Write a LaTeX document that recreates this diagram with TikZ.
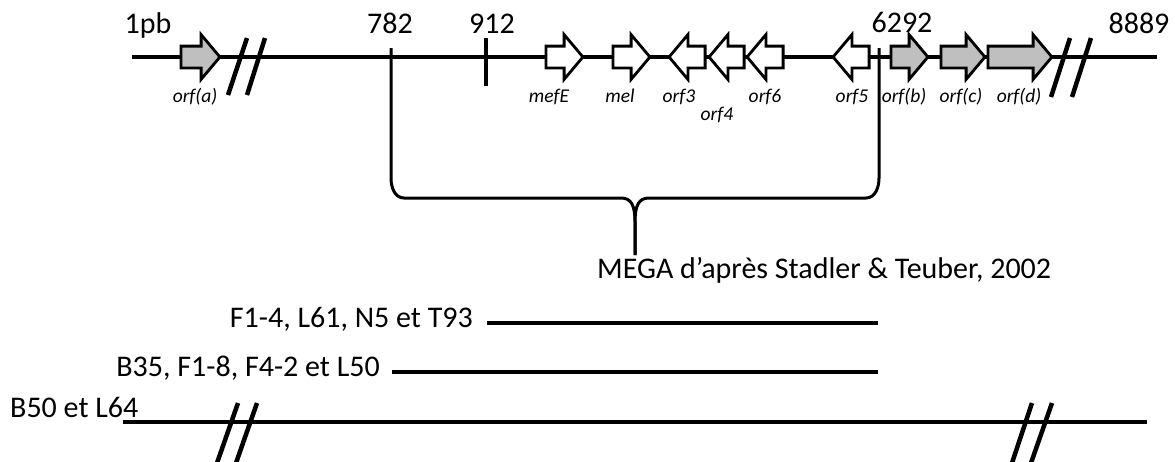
\documentclass[tikz,border=0pt]{standalone}
\usepackage{fontspec}
\setmainfont{Carlito}
\usetikzlibrary{shapes.arrows}

\begin{document}
\begin{tikzpicture}[x=1pt, y=-1pt,
  gene/.style={single arrow, draw=black, line width=2.8pt, fill=white, minimum height=#1, minimum width=0pt, inner xsep=0pt, inner ysep=9.5pt, single arrow head extend=11.5pt, single arrow tip angle=100, anchor=tail},
  orfgray/.style={fill=black!25},
  backward/.style={shape border rotate=180},
  bigtxt/.style={font=\fontsize{30}{34}\selectfont, inner sep=0pt},
  orftxt/.style={font=\fontsize{19.5}{22}\selectfont\itshape, inner sep=0pt, anchor=base},
  seqline/.style={line width=4.8pt},
  cutmark/.style={line width=4.5pt},
  tickline/.style={line width=3pt},
  bar/.style={line width=4pt}
]
  \useasboundingbox (0,0) rectangle (1175,461);

  \coordinate (seqstart) at (132,57);
  \coordinate (seqend) at (1157,57);
  \draw[seqline] (seqstart) -- (seqend);

  \draw[cutmark] (247,38) -- (228,95);
  \draw[cutmark] (265,38) -- (247,95);
  \draw[cutmark] (1070,38) -- (1051,97);
  \draw[cutmark] (1091,38) -- (1072,97);

  \coordinate (t782) at (391,48);
  \coordinate (t912) at (486,38);
  \coordinate (t6292) at (879,48);
  \coordinate (bracetip) at (635,255);
  \draw[cutmark] (t912) -- (486,86);
  \draw[tickline] (t782) -- (391,178) to[out=-90, in=180] (404,198) -- (621,198)
    .. controls (631,198) and (635,205) .. (635,222) -- (bracetip);
  \draw[tickline] (bracetip) -- (635,222) .. controls (635,205) and (639,198) .. (649,198)
    -- (866,198) to[out=0, in=-90] (879,178) -- (t6292);

  \node[gene=39pt, orfgray] (orfa) at (179.5,57) {};
  \node[gene=37pt] (mefE) at (544.5,57) {};
  \node[gene=37pt] (mel) at (611.5,57) {};
  \node[gene=36pt, backward] (orf3) at (706.5,57) {};
  \node[gene=35pt, backward] (orf4) at (745.5,57) {};
  \node[gene=36pt, backward] (orf6) at (784.5,57) {};
  \node[gene=36pt, backward] (orf5) at (870.5,57) {};
  \node[gene=37pt, orfgray] (orfb) at (889.5,57) {};
  \node[gene=44pt, orfgray] (orfc) at (939.5,57) {};
  \node[gene=64pt, orfgray] (orfd) at (986.5,57) {};

  \node[bigtxt, anchor=base] (pos1) at (148,33) {1pb};
  \node[bigtxt, anchor=base] (pos782) at (390,33) {782};
  \node[bigtxt, anchor=base] (pos912) at (492,33) {912};
  \node[bigtxt, anchor=base] (pos6292) at (902,32) {6292};
  \node[bigtxt, anchor=base] (pos8889) at (1139,33) {8889};

  \node[orftxt] (lorfa) at (195,102) {orf(a)};
  \node[orftxt] (lmefE) at (549,102) {mefE};
  \node[orftxt] (lmel) at (620,102) {mel};
  \node[orftxt] (lorf3) at (679,102) {orf3};
  \node[orftxt] (lorf4) at (717,120) {orf4};
  \node[orftxt] (lorf6) at (765,102) {orf6};
  \node[orftxt] (lorf5) at (852,102) {orf5};
  \node[orftxt] (lorfb) at (904,102) {orf(b)};
  \node[orftxt] (lorfc) at (961,102) {orf(c)};
  \node[orftxt] (lorfd) at (1019,102) {orf(d)};

  \node[bigtxt, anchor=base west] (mega) at (597,278) {MEGA d’après Stadler \& Teuber, 2002};

  \node[bigtxt, anchor=base east] (grp1) at (473,327) {F1-4, L61, N5 et T93};
  \node[bigtxt, anchor=base east] (grp2) at (380,376) {B35, F1-8, F4-2 et L50};
  \node[bigtxt, anchor=base west] (grp3) at (10,417) {B50 et L64};

  \draw[bar] (487,323) -- (878,323);
  \draw[bar] (392,372) -- (878,372);
  \draw[bar] (123,422) -- (1147,422);
  \draw[cutmark] (238,403) -- (217,463);
  \draw[cutmark] (257,403) -- (236,463);
  \draw[cutmark] (1032,403) -- (1012,463);
  \draw[cutmark] (1052,403) -- (1031,463);
\end{tikzpicture}
\end{document}
